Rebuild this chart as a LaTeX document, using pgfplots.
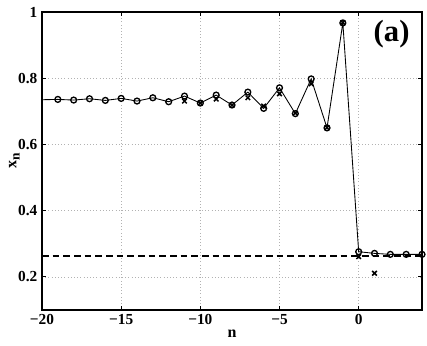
\documentclass[border=0pt]{standalone}
\usepackage{fontspec}
\setmainfont{Liberation Serif}
\usepackage{pgfplots}
\pgfplotsset{compat=1.18}
\usetikzlibrary{calc}
\begin{document}
\begin{tikzpicture}
\begin{axis}[
    scale only axis,
    width=285pt,
    height=223.5pt,
    xmin=-20, xmax=4,
    ymin=0.1, ymax=1,
    xtick={-20,-15,-10,-5,0},
    xticklabels={−20,−15,−10,−5,0},
    ytick={0.2,0.4,0.6,0.8,1},
    yticklabels={0.2,0.4,0.6,0.8,1},
    tick align=inside,
    major tick length=3pt,
    grid=major,
    major grid style={gray!60, dotted, line width=0.5pt},
    axis line style={line width=0.8pt},
    tick style={black, line width=0.6pt},
    tick label style={font=\fontsize{11.5}{11.5}\selectfont\bfseries},
    xlabel={n},
    ylabel={x\raisebox{-0.45ex}{\fontsize{10}{10}\selectfont n}},
    label style={font=\fontsize{12}{12}\selectfont\bfseries},
    xlabel style={yshift=3pt},
    ylabel style={yshift=-8pt},
    clip=true,
]
% dashed reference level
\addplot[black, dash pattern=on 5pt off 3pt, line width=1.1pt, forget plot] coordinates {(-20,0.263) (4,0.263)};
% line through circles (continues past the left edge)
\addplot[black, line width=0.65pt, forget plot] coordinates {
    (-21,0.736) (-20,0.735) (-19,0.736) (-18,0.734) (-17,0.738) (-16,0.733)
    (-15,0.739) (-14,0.731) (-13,0.741) (-12,0.729) (-11,0.746)
    (-10,0.725) (-9,0.749) (-8,0.719) (-7,0.758) (-6,0.709)
    (-5,0.771) (-4,0.693) (-3,0.798) (-2,0.650) (-1,0.967)
    (0,0.276) (1,0.271) (2,0.268) (3,0.268) (4,0.268)
};
% circles
\addplot[black, only marks, mark=o, mark size=2.2pt, line width=1pt] coordinates {
    (-19,0.736) (-18,0.734) (-17,0.738) (-16,0.733)
    (-15,0.739) (-14,0.731) (-13,0.741) (-12,0.729) (-11,0.746)
    (-10,0.725) (-9,0.749) (-8,0.719) (-7,0.758) (-6,0.709)
    (-5,0.771) (-4,0.693) (-3,0.798) (-2,0.650) (-1,0.967)
    (0,0.276) (1,0.271) (2,0.268) (3,0.268) (4,0.268)
};
% crosses
\addplot[black, only marks, mark=x, mark size=2.4pt, line width=1.1pt] coordinates {
    (-11,0.731) (-10,0.725) (-9,0.737) (-8,0.719) (-7,0.741) (-6,0.716)
    (-5,0.753) (-4,0.695) (-3,0.783) (-2,0.651) (-1,0.968)
    (0,0.261) (1,0.211)
};
\node[font=\fontsize{23}{23}\selectfont\bfseries] at (rel axis cs:0.92,0.925) {(a)};
\end{axis}
\pgfresetboundingbox
\path (current axis.south west) ++(-31.5pt,-27pt) rectangle ($(current axis.north east)+(3.75pt,9pt)$);
\end{tikzpicture}
\end{document}
